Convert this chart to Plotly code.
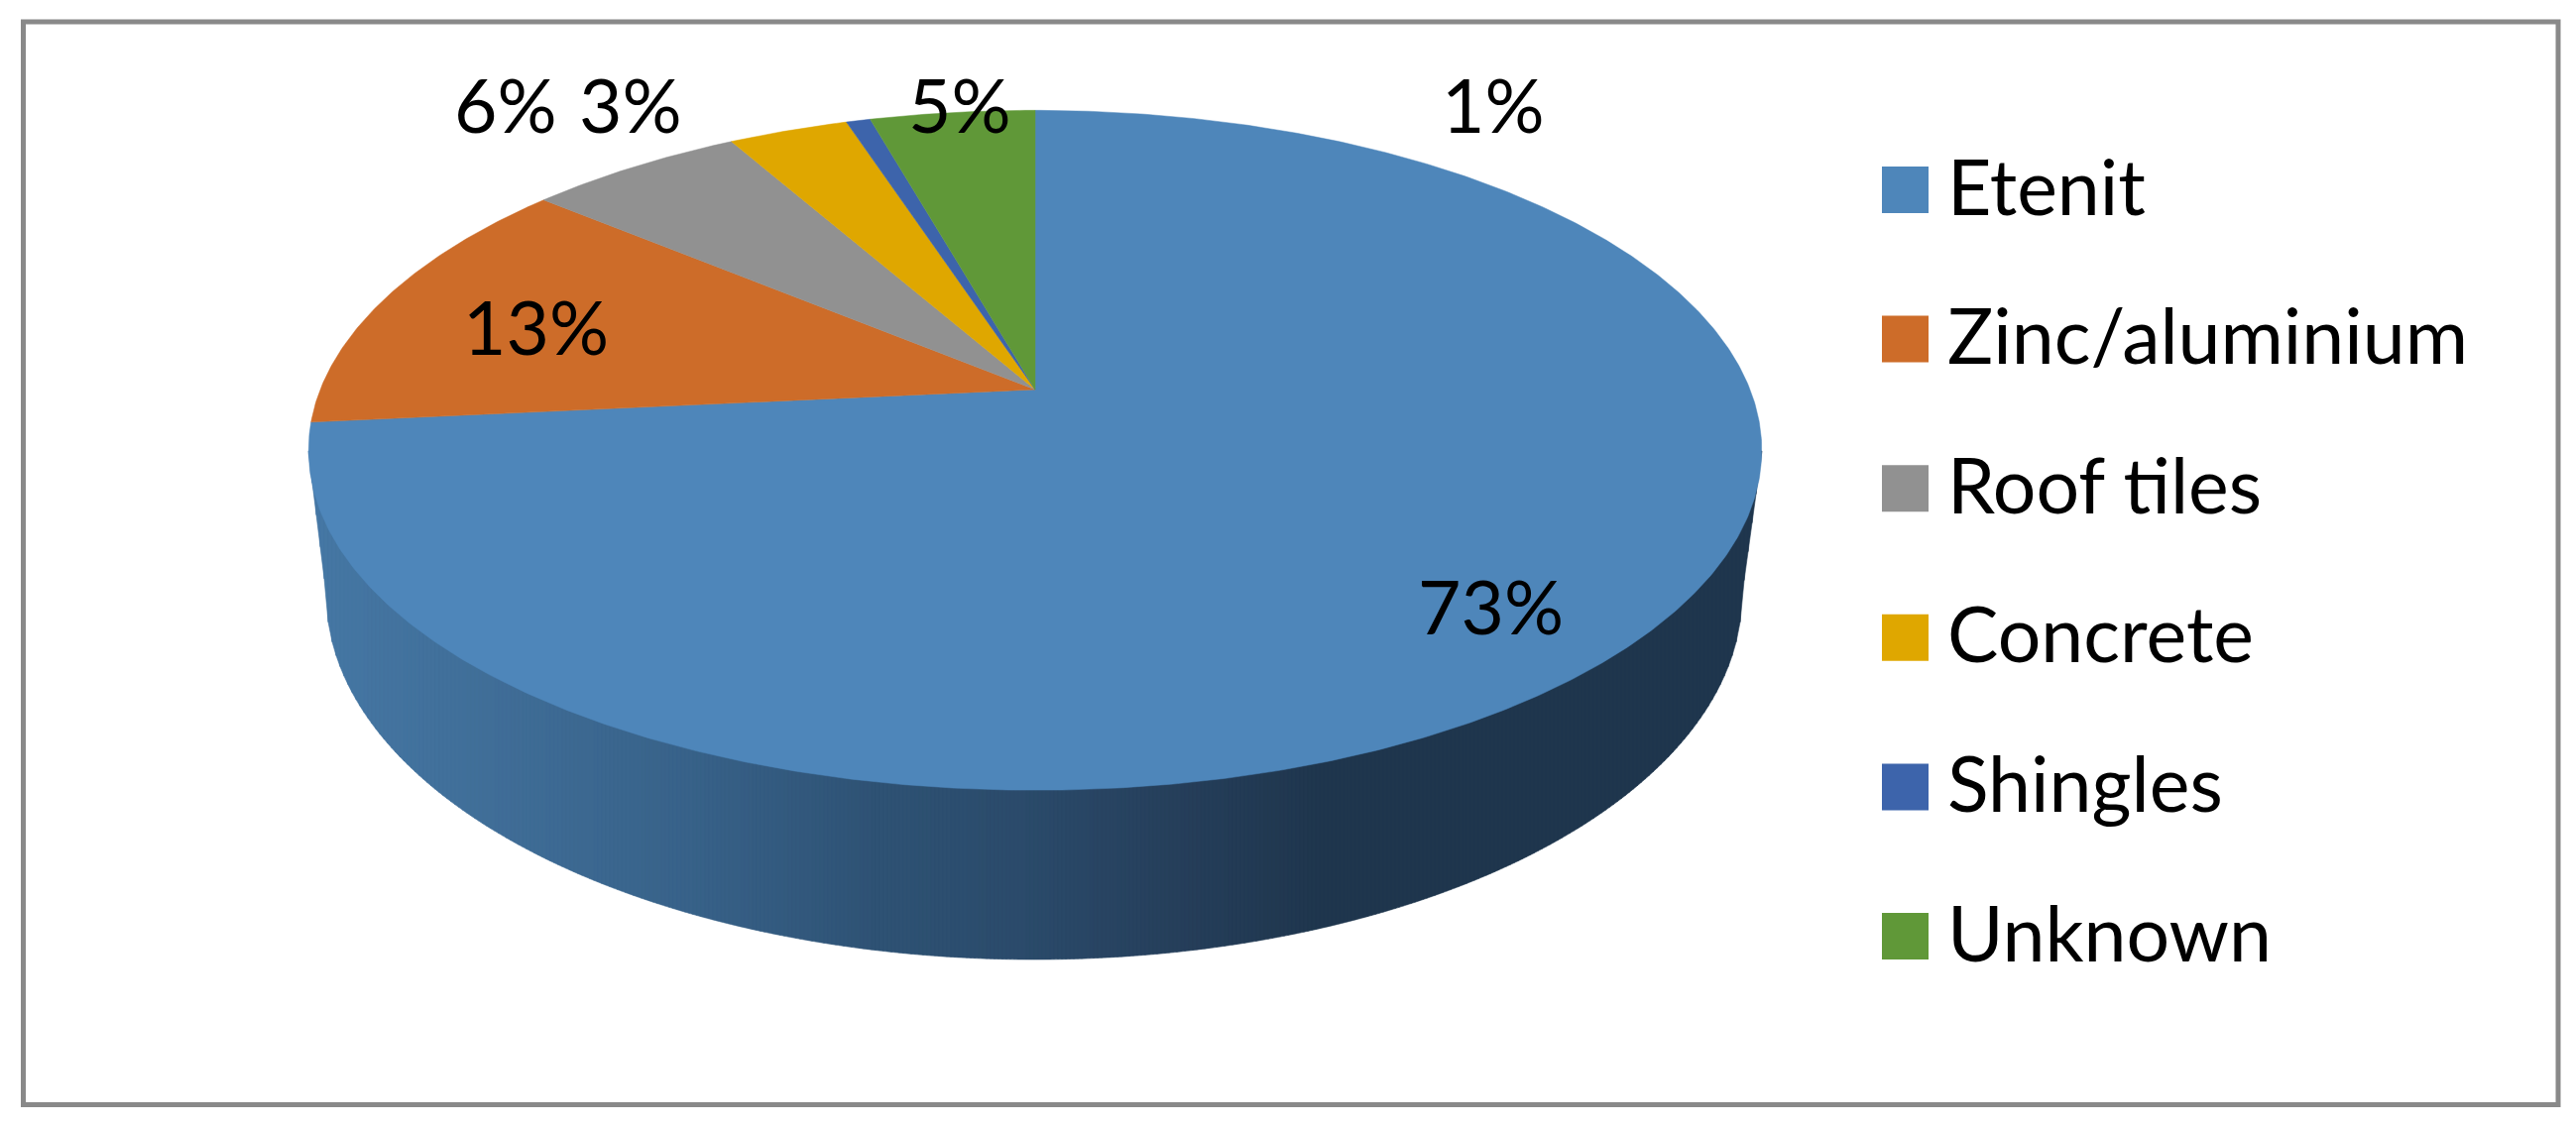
import numpy as np
import plotly.graph_objects as go

# Data
categories = ["Etenit", "Zinc/aluminium", "Roof tiles", "Concrete", "Shingles", "Unknown"]
values = [73.45, 12.65, 5.73, 3.17, 0.64, 4.36]
value_labels = ["73%", "13%", "6%", "3%", "1%", "5%"]

# Styling
colors = ["#4e86ba", "#cd6c29", "#919191", "#dfa700", "#3d64ab", "#609838"]
FONT = "Lato"
FS_LABEL = 75
FS_LEGEND = 77
W, H = 2598, 1137

# Perspective model of the disc
CX, CY = 1044.0, 393.0      # apex of the pie
K = 0.1787
A, B = 332.0, 721.0         # vertical / horizontal scale


def rim(phi):
    """phi: clockwise from 12 o'clock, radians"""
    d = 1 + K * np.cos(phi)
    return CX + B * np.sin(phi) / d, CY - A * np.cos(phi) / d


# Side wall silhouette
RIM_L, RIM_R, RIM_Y = 311.0, 1777.0, 455.0
BASE_CX, BASE_CY, BASE_RX, BASE_RY = 1043.0, 600.0, 714.0, 368.0


def wall_bottom(x):
    dx = x - BASE_CX
    if abs(dx) <= BASE_RX:
        return BASE_CY + BASE_RY * np.sqrt(1 - (dx / BASE_RX) ** 2)
    if dx < 0:
        return RIM_Y + (BASE_CY - RIM_Y) * (x - RIM_L) / (BASE_CX - BASE_RX - RIM_L)
    return RIM_Y + (BASE_CY - RIM_Y) * (RIM_R - x) / (RIM_R - BASE_CX - BASE_RX)


fig = go.Figure()

# Side wall gradient, drawn as vertical bands
stop_x = [311, 500, 700, 880, 1035, 1190, 1342, 1800]
stop_rgb = np.array([
    [70, 120, 165], [64, 110, 152], [56, 98, 137], [47, 83, 117],
    [43, 75, 107], [38, 63, 91], [31, 54, 77], [32, 54, 77],
], dtype=float)

band_edges = np.arange(RIM_L, RIM_R + 4, 4.0)
band_edges[-1] = RIM_R
for x0, x1 in zip(band_edges[:-1], band_edges[1:]):
    mid = (x0 + x1) / 2
    col = "rgb(%d,%d,%d)" % tuple(np.interp(mid, stop_x, stop_rgb[:, i]) for i in range(3))
    fig.add_trace(go.Scatter(
        x=[x0, x1, x1, x0, x0],
        y=[RIM_Y, RIM_Y, wall_bottom(x1), wall_bottom(x0), RIM_Y],
        mode="lines", fill="toself", fillcolor=col, line=dict(color=col, width=0.6),
        showlegend=False, hoverinfo="skip"))

# Top face sectors
cum = np.cumsum([0] + values) / sum(values) * 2 * np.pi
for i, name in enumerate(categories):
    phi = np.linspace(cum[i], cum[i + 1], max(6, int(values[i] * 8)))
    xs, ys = rim(phi)
    fig.add_trace(go.Scatter(
        x=np.r_[CX, xs, CX], y=np.r_[CY, ys, CY], mode="lines", fill="toself",
        fillcolor=colors[i], line=dict(color=colors[i], width=0.5),
        name=name, showlegend=False, hoverinfo="name"))

# Value labels
label_x = [1503, 540, 510, 636, 1506, 968]
label_y = [611, 329, 105, 105, 105, 105]
annotations = [
    dict(x=x, y=y, text=t, showarrow=False, xanchor="center", yanchor="middle",
         font=dict(family=FONT, size=FS_LABEL, color="black"))
    for x, y, t in zip(label_x, label_y, value_labels)
]

# Hand-built legend (swatches larger than plotly's legend permits)
LEG_X, LEG_Y0, LEG_DY, LEG_TX = 1921.5, 191.5, 150.6, 1962
for i, name in enumerate(categories):
    y = LEG_Y0 + i * LEG_DY
    fig.add_trace(go.Scatter(
        x=[LEG_X], y=[y], mode="markers", name=name, showlegend=False,
        marker=dict(symbol="square", size=47, color=colors[i], line=dict(width=0)),
        hoverinfo="name"))
    annotations.append(dict(
        x=LEG_TX, y=y - 5, text=name, showarrow=False, xanchor="left", yanchor="middle",
        font=dict(family=FONT, size=FS_LEGEND, color="black")))

fig.update_layout(
    width=W, height=H, margin=dict(l=0, r=0, t=0, b=0),
    paper_bgcolor="white", plot_bgcolor="white", showlegend=False,
    xaxis=dict(range=[0, W], visible=False, fixedrange=True),
    yaxis=dict(range=[H, 0], visible=False, fixedrange=True),
    annotations=annotations,
    shapes=[dict(type="rect", xref="x", yref="y", x0=23.5, y0=22, x1=2580, y1=1114.5,
                 line=dict(color="#898989", width=5), layer="below")],
)
fig.write_html("out.html", post_script="document.body.style.margin='0';document.documentElement.style.overflow='hidden';",
               config={"displayModeBar": False})
